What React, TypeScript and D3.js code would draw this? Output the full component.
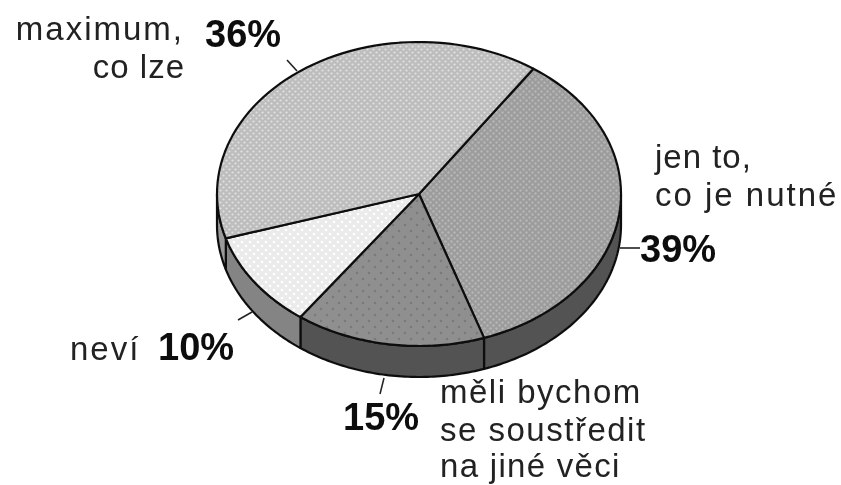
import React from "react";
import * as d3 from "d3";

// Percentages as printed on the chart
const printedLabels = ["39%", "15%", "10%", "36%"];
const drawnShares = [35.2, 15.2, 10.3, 39.3];
const sliceIds = ["jen", "meli", "nevi", "max"];
const topPatterns = ["p39", "p15", "p10", "p36"];
const wallColors = ["#525252", "#525252", "#848484", "#9a9a9a"];

const W = 841, H = 485;
const cx = 419, cy = 194, rx = 202, ry = 152, depth = 31;
const firstAngle = (34.5 * Math.PI) / 180;

const pt = (a: number, dy = 0): [number, number] => [cx + rx * Math.sin(a), cy - ry * Math.cos(a) + dy];

const arcs = d3.pie<number>().sort(null).startAngle(firstAngle).endAngle(firstAngle + 2 * Math.PI)(drawnShares);

const sample = (a0: number, a1: number) => d3.range(0, 61).map((i) => a0 + ((a1 - a0) * i) / 60);
const line = d3.line();

function topPath(a0: number, a1: number) {
  const pts = [[cx, cy] as [number, number], ...sample(a0, a1).map((a) => pt(a))];
  return line(pts) + "Z";
}
// front wall is only visible between 90 and 270 degrees clockwise from top
function wallPath(a0: number, a1: number) {
  const segs: string[] = [];
  for (const k of [0, 2 * Math.PI]) {
    const s = Math.max(a0, Math.PI / 2 + k), e = Math.min(a1, (3 * Math.PI) / 2 + k);
    if (e > s) {
      const as = sample(s, e);
      segs.push(line([...as.map((a) => pt(a)), ...as.slice().reverse().map((a) => pt(a, depth))])! + "Z");
    }
  }
  return segs.join("");
}

const leaders = [
  [[620, 248], [640, 248]],
  [[384, 378], [380, 394]],
  [[252, 312], [238, 320]],
  [[297, 71], [287, 60]],
] as [number, number][][];

const wordLines = [
  { t: "maximum,", x: 184, y: 40, a: "end", ls: 2 },
  { t: "co lze", x: 185, y: 78, a: "end", ls: 1 },
  { t: "jen to,", x: 655, y: 168, a: "start", ls: 1 },
  { t: "co je nutné", x: 655, y: 206, a: "start", ls: 2 },
  { t: "neví", x: 70, y: 360, a: "start", ls: 2 },
  { t: "měli bychom", x: 440, y: 403, a: "start", ls: 1.5 },
  { t: "se soustředit", x: 440, y: 441, a: "start", ls: 1.5 },
  { t: "na jiné věci", x: 440, y: 477, a: "start", ls: 1.3 },
];
const pctPos = [
  { x: 640, y: 262 },
  { x: 343, y: 430 },
  { x: 158, y: 360 },
  { x: 205, y: 47 },
];

const Dots = ({ id, size, base, dot, r, cs }: { id: string; size: number; base: string; dot: string; r: number; cs: [number, number][] }) => (
  <pattern id={id} width={size} height={size} patternUnits="userSpaceOnUse">
    <rect width={size} height={size} fill={base} />
    {cs.map((c, i) => (
      <circle key={i} cx={c[0]} cy={c[1]} r={r} fill={dot} />
    ))}
  </pattern>
);

export default function App() {
  return (
    <svg width={W} height={H} viewBox={`0 0 ${W} ${H}`} style={{ position: "absolute", left: 0, top: 0, background: "#fff" }}>
      <defs>
        <Dots id="p36" size={6} base="#bdbdbd" dot="#e2e2e2" r={1.1} cs={[[1.5, 1.5], [4.5, 4.5]]} />
        <Dots id="p39" size={6} base="#9c9c9c" dot="#b6b6b6" r={1.2} cs={[[1.5, 1.5], [4.5, 4.5]]} />
        <Dots id="p15" size={12} base="#8f8f8f" dot="#7a7a7a" r={1.3} cs={[[3, 3], [9, 9]]} />
        <Dots id="p10" size={8} base="#ebebeb" dot="#ffffff" r={1.3} cs={[[2, 2], [6, 6]]} />
        <filter id="soft" x="0" y="0" width="100%" height="100%">
          <feGaussianBlur stdDeviation="0.45" />
        </filter>
      </defs>
      <g filter="url(#soft)">
        {arcs.map((d, i) => (
          <path key={"w" + sliceIds[i]} d={wallPath(d.startAngle, d.endAngle)} fill={wallColors[i]} stroke="#111" strokeWidth={2.2} strokeLinejoin="round" />
        ))}
        {arcs.map((d, i) => (
          <path key={"t" + sliceIds[i]} d={topPath(d.startAngle, d.endAngle)} fill={`url(#${topPatterns[i]})`} stroke="#111" strokeWidth={2.2} strokeLinejoin="round" />
        ))}
        {leaders.map((l, i) => (
          <path key={"l" + i} d={line(l)!} fill="none" stroke="#222" strokeWidth={1.6} />
        ))}
        <g fontFamily="'Liberation Sans', Arial, sans-serif" fill="#222">
          {wordLines.map((w, i) => (
            <text key={i} x={w.x} y={w.y} textAnchor={w.a} fontSize={33} letterSpacing={w.ls}>
              {w.t}
            </text>
          ))}
          {printedLabels.map((p, i) => (
            <text key={p} x={pctPos[i].x} y={pctPos[i].y} fontSize={38} fontWeight="bold" letterSpacing={0} fill="#0c0c0c">
              {p}
            </text>
          ))}
        </g>
      </g>
    </svg>
  );
}
